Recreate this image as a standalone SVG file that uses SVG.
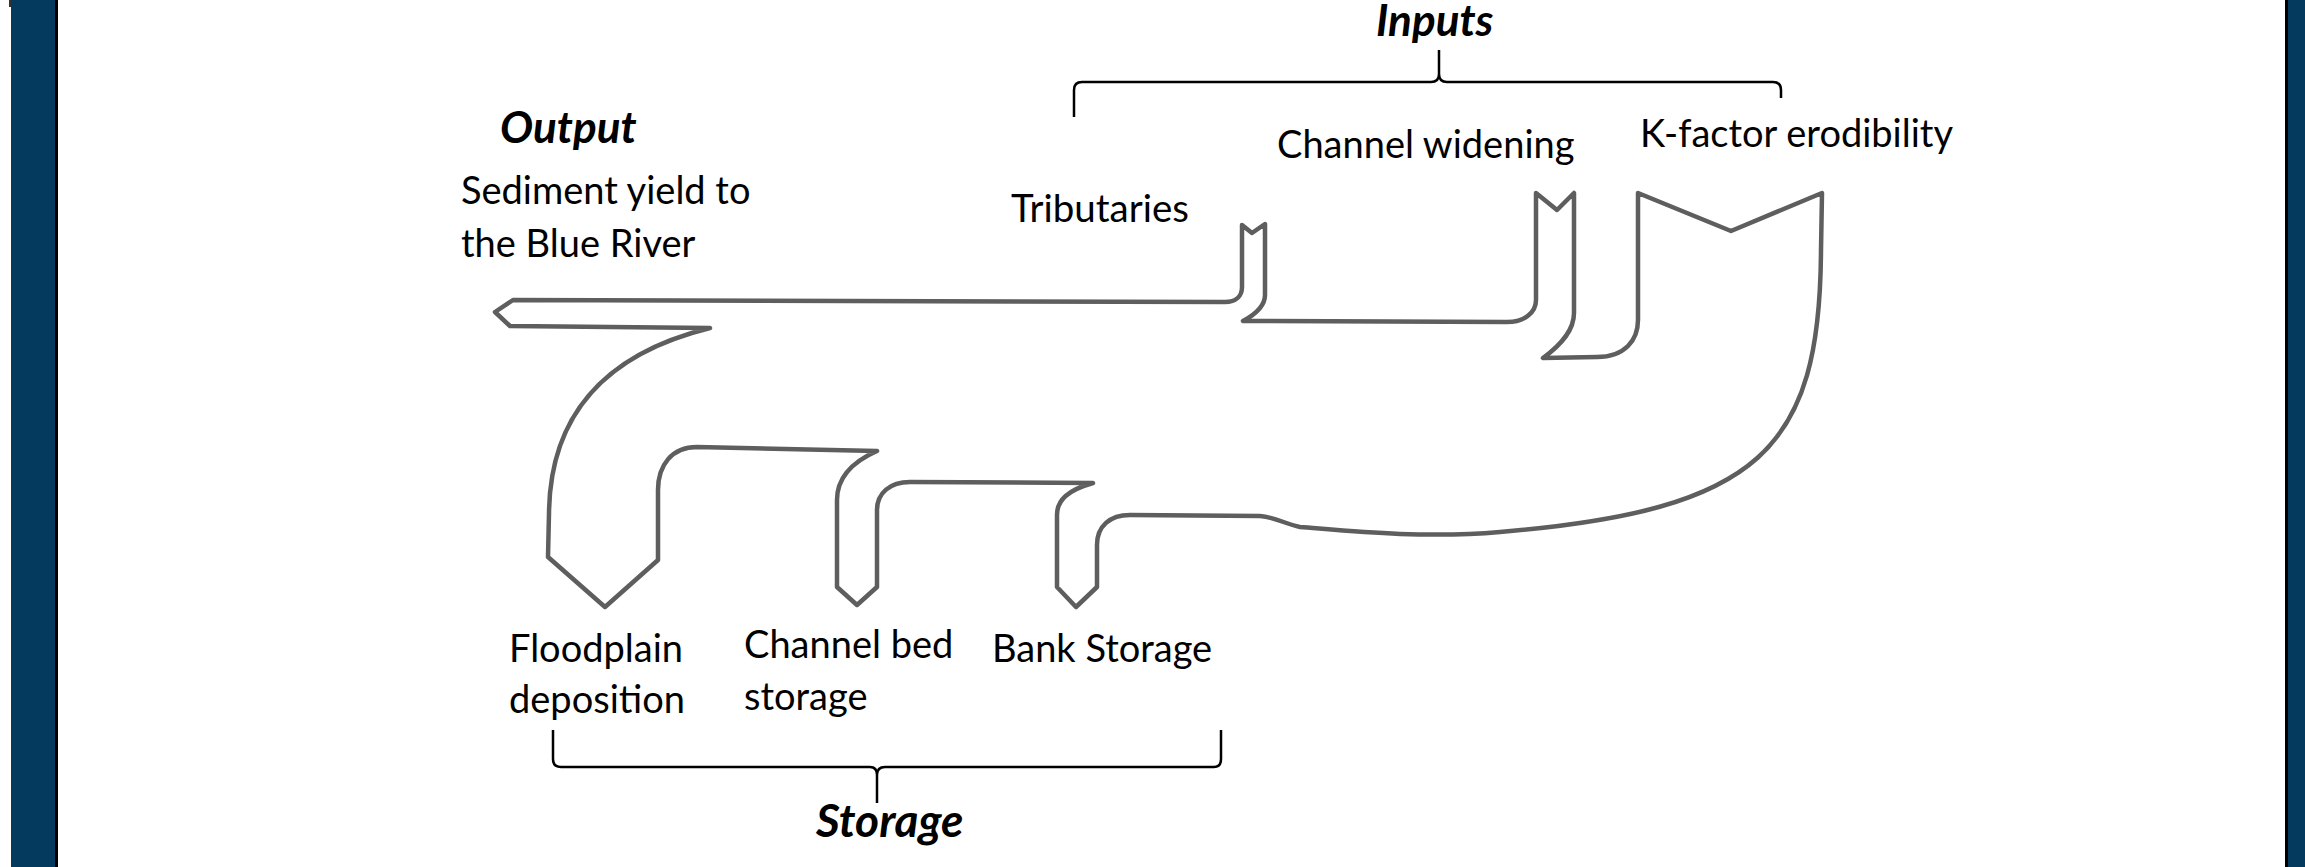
<svg xmlns="http://www.w3.org/2000/svg" width="2305" height="867" viewBox="0 0 2305 867">
<style>
.lbl{font-family:Lato,"Open Sans","Liberation Sans",sans-serif;font-size:38px;fill:#000}
.hd{font-family:Lato,"Open Sans","Liberation Sans",sans-serif;font-size:44px;font-weight:bold;font-style:italic;fill:#000}
.flow{fill:#fff;stroke:#5e5e5e;stroke-width:4.5;stroke-linejoin:round}
.brace{fill:none;stroke:#000;stroke-width:2.5}
</style>
<rect width="2305" height="867" fill="#fff"/>
<g id="frame">
<rect x="11" y="0" width="44" height="867" fill="#033a5e"/>
<rect x="55" y="0" width="3" height="867" fill="#000"/>
<rect x="9" y="0" width="2" height="7" fill="#333"/>
<rect x="2285" y="0" width="3" height="867" fill="#000"/>
<rect x="2288" y="0" width="17" height="867" fill="#033a5e"/>
</g>
<g id="sediment-flow">
<path class="flow" d="M495,312 L513,300 L1225,302 C1236,302 1242,296 1242,287 L1242,225 L1252,233 L1265,224 L1265,295 C1265,305 1258,313 1243,321 L1507,322 C1525,322 1536,312 1536,300 L1536,193 L1557,210 L1574,193 L1574,313 C1574,330 1562,344 1543,358 L1597,357 C1625,357 1638,340 1638,320 L1638,193 L1731,231 L1822,193 L1821,250 C1820,450 1760,510 1500,532 C1420,539 1340,530 1300,527 C1285,524 1275,517 1260,516 L1130,515 C1110,515 1097,526 1097,545 L1097,587 L1076,607 L1057,587 L1057,515 C1057,500 1068,490 1093,483 L910,482 C890,482 877,493 877,510 L877,587 L857,605 L837,587 L837,500 C837,478 852,462 877,451 L697,447 C672,447 658,465 658,490 L658,560 L605,607 L548,557 L549,513 C550,420 600,355 710,328 L510,326 Z"/>
</g>
<g id="braces">
<path class="brace" d="M1074,117 L1074,90 Q1074,82 1082,82 L1431,82 Q1439,82 1439,74 L1439,50 M1439,74 Q1439,82 1447,82 L1773,82 Q1781,82 1781,90 L1781,98"/>
<path class="brace" d="M553,730 L553,759 Q553,767 561,767 L870,767 Q877,767 877,775 L877,803 M877,775 Q877,767 885,767 L1214,767 Q1221,767 1221,759 L1221,730"/>
</g>
<g id="headings">
<text class="hd" x="1376" y="36">Inputs</text>
<text class="hd" x="500" y="143">Output</text>
<text class="hd" x="816" y="837" style="font-size:46px">Storage</text>
</g>
<g id="labels">
<text class="lbl" x="461" y="204">Sediment yield to</text>
<text class="lbl" x="461" y="257">the Blue River</text>
<text class="lbl" x="1011" y="222" style="font-size:38.5px">Tributaries</text>
<text class="lbl" x="1277" y="158">Channel widening</text>
<text class="lbl" x="1640" y="147">K-factor erodibility</text>
<text class="lbl" x="509" y="662">Floodplain</text>
<text class="lbl" x="509" y="713">deposition</text>
<text class="lbl" x="744" y="658">Channel bed</text>
<text class="lbl" x="744" y="710">storage</text>
<text class="lbl" x="992" y="662">Bank Storage</text>
</g>
</svg>
